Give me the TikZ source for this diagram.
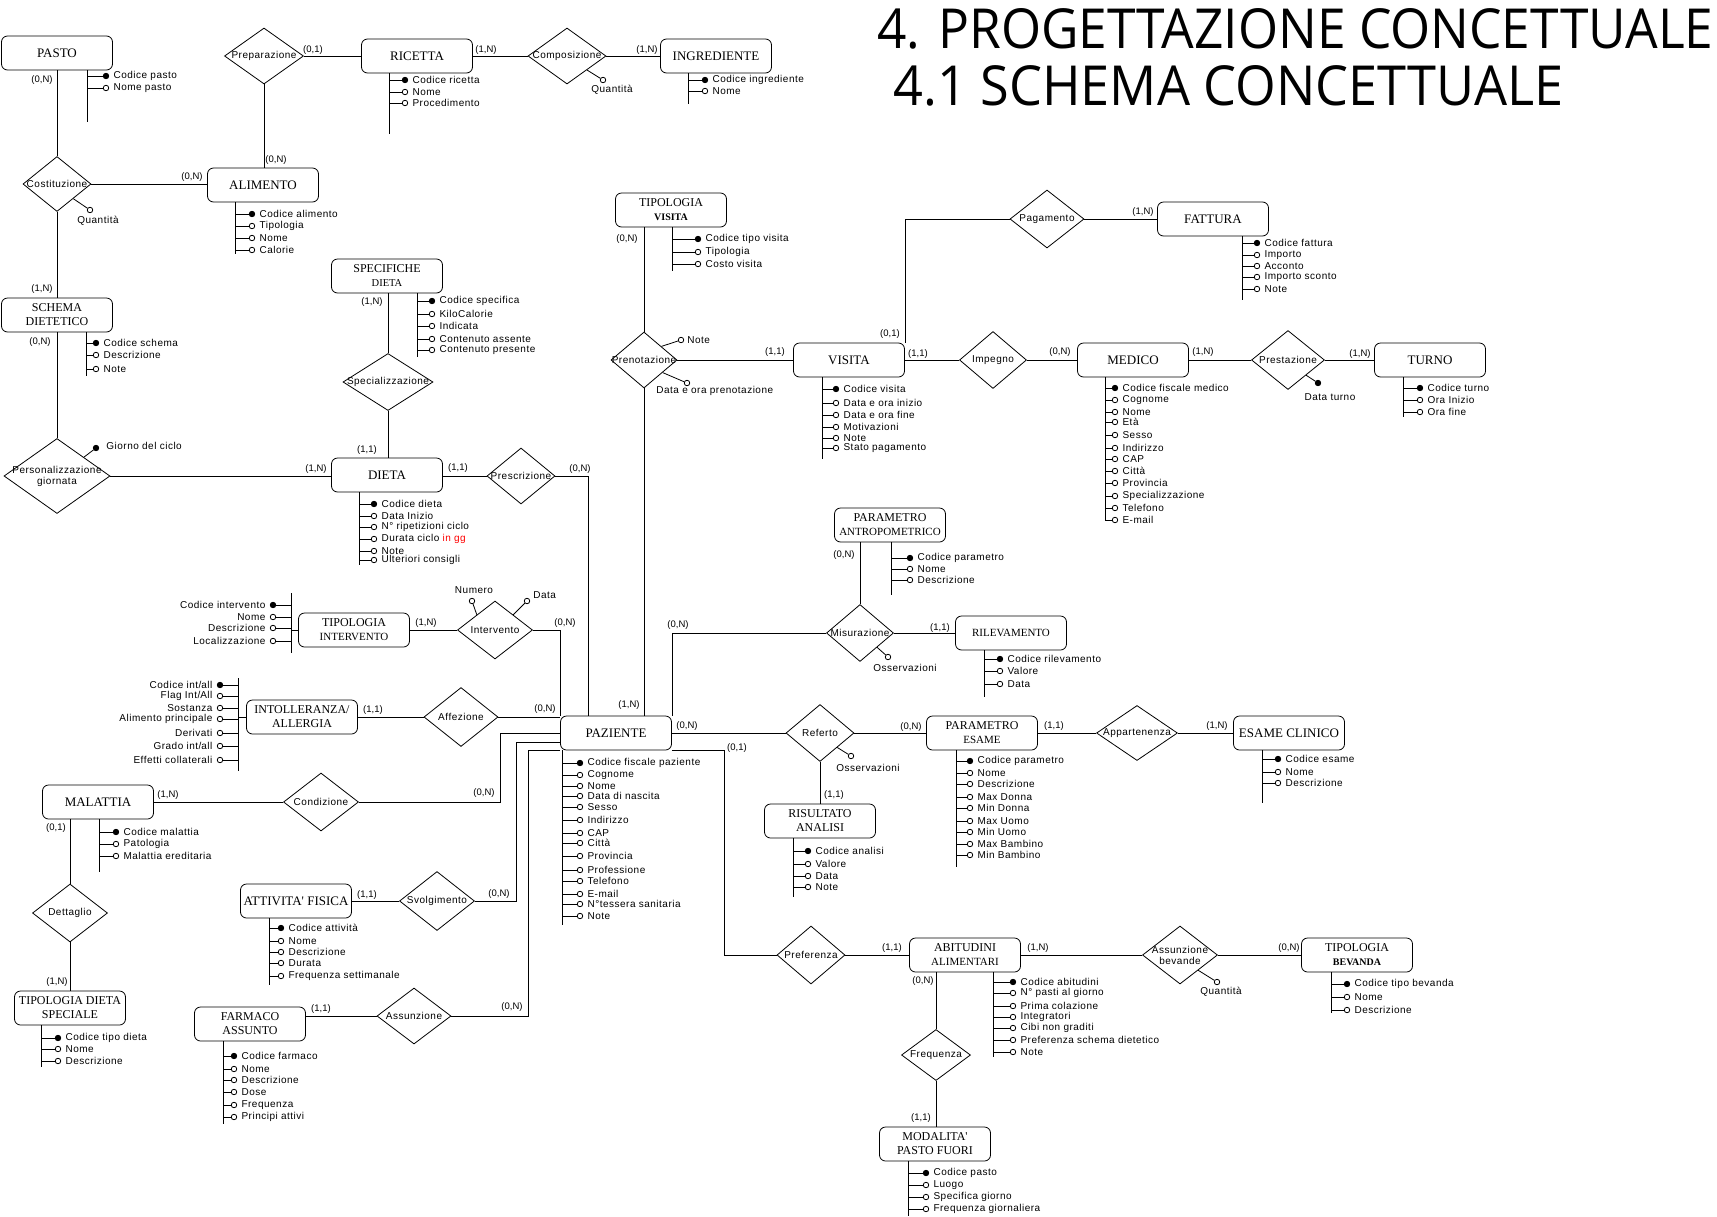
\documentclass[tikz,border=0pt]{standalone}
\usepackage{fontspec}
\usepackage{xcolor}
\usepackage{graphicx}
\usepackage{tikz}
\usetikzlibrary{shapes.geometric}
\usetikzlibrary{positioning}
\newfontfamily\entfont{Liberation Serif}
\newfontfamily\attfont[LetterSpace=5]{Liberation Sans}
\newfontfamily\cardfont{Liberation Sans}
\newfontfamily\titlefont{Open Sans}

\begin{document}
\begin{tikzpicture}[x=1pt,y=-1pt,line width=0.8pt,
  entity/.style={draw, rectangle, rounded corners=6pt, minimum width=111pt, minimum height=34pt, inner sep=1pt, align=center, font=\entfont\fontsize{13}{14}\selectfont},
  entity2/.style={entity, font=\entfont\fontsize{12}{14}\selectfont},
  rel/.style n args={3}{draw, diamond, minimum width=#1pt, minimum height=#2pt, inner sep=0pt, label={[reltext]center:{#3}}},
  reltext/.style={font=\attfont\fontsize{10}{11}\selectfont, align=center, inner sep=0pt},
  card/.style={font=\cardfont\fontsize{9.5}{11}\selectfont, inner sep=0pt},
  att/.style={circle, draw, fill=#1, minimum size=5.5pt, inner sep=0pt},
  attr/.style={font=\attfont\fontsize{10}{12}\selectfont, inner sep=0pt}]
%set diagram size to the page
\path[fill=white] (0,0) rectangle (1717,1216);

% Title
\node[anchor=base west, inner sep=0pt] (titolo1) at (877,48) {\resizebox{836pt}{40pt}{\titlefont 4. PROGETTAZIONE CONCETTUALE}};
\node[anchor=base west, inner sep=0pt] (titolo2) at (893,105) {\resizebox{670pt}{40pt}{\titlefont 4.1 SCHEMA CONCETTUALE}};

%Shape: Entities
\node[entity] (pasto) at (57,53) {PASTO};
\node[entity] (ricetta) at (417,56) {RICETTA};
\node[entity] (ingrediente) at (716,56) {INGREDIENTE};
\node[entity] (alimento) at (263,185) {ALIMENTO};
\node[entity2] (schema) at (57,315) {SCHEMA\\DIETETICO};
\node[entity2] (specifiche) at (387,276) {SPECIFICHE\\{\fontsize{10.5}{12}\selectfont DIETA}};
\node[entity] (dieta) at (387,475) {DIETA};
\node[entity2] (tipvisita) at (671,210) {TIPOLOGIA\\{\fontsize{10}{12}\selectfont\bfseries VISITA}};
\node[entity] (fattura) at (1213,219) {FATTURA};
\node[entity] (visita) at (849,360) {VISITA};
\node[entity] (medico) at (1133,360) {MEDICO};
\node[entity] (turno) at (1430,360) {TURNO};
\node[entity2] (antropo) at (890,525) {PARAMETRO\\{\fontsize{11}{12}\selectfont ANTROPOMETRICO}};
\node[entity, font=\entfont\fontsize{11}{12}\selectfont] (rilevamento) at (1011,633) {RILEVAMENTO};
\node[entity2] (tipintervento) at (354,630) {TIPOLOGIA\\{\fontsize{11}{12}\selectfont INTERVENTO}};
\node[entity2] (intolleranza) at (302,717) {INTOLLERANZA/\\ALLERGIA};
\node[entity] (paziente) at (616,733) {PAZIENTE};
\node[entity2] (parametro) at (982,733) {PARAMETRO\\{\fontsize{11}{12}\selectfont ESAME}};
\node[entity] (esame) at (1289,733) {ESAME CLINICO};
\node[entity] (malattia) at (98,802) {MALATTIA};
\node[entity2] (risultato) at (820,821) {RISULTATO\\ANALISI};
\node[entity] (attivita) at (296,901) {ATTIVITA' FISICA};
\node[entity2] (tipdieta) at (70,1008) {TIPOLOGIA DIETA\\SPECIALE};
\node[entity2] (farmaco) at (250,1024) {FARMACO\\ASSUNTO};
\node[entity2] (abitudini) at (965,955) {ABITUDINI\\{\fontsize{11}{12}\selectfont ALIMENTARI}};
\node[entity2] (bevanda) at (1357,955) {TIPOLOGIA\\{\fontsize{10}{12}\selectfont\bfseries BEVANDA}};
\node[entity2] (modalita) at (935,1144) {MODALITA'\\PASTO FUORI};

%Shape: Relations
\node[rel={79}{56}{Preparazione}] (preparazione) at (264,56) {};
\node[rel={78}{56}{Composizione}] (composizione) at (567,56) {};
\node[rel={68}{55}{Costituzione}] (costituzione) at (57,184) {};
\node[rel={90}{57}{Specializzazione}] (specializzazione) at (388,382) {};
\node[rel={106}{75}{Personalizzazione\\giornata}] (personalizzazione) at (57,476) {};
\node[rel={68}{56}{Prescrizione}] (prescrizione) at (521,476) {};
\node[rel={66}{56}{Prenotazione}] (prenotazione) at (644,360) {};
\node[rel={74}{58}{Pagamento}] (pagamento) at (1047,219) {};
\node[rel={67}{57}{Impegno}] (impegno) at (993,360) {};
\node[rel={73}{59}{Prestazione}] (prestazione) at (1288,360) {};
\node[rel={75}{58}{Intervento}] (intervento) at (495,630) {};
\node[rel={74}{59}{Affezione}] (affezione) at (461,717) {};
\node[rel={67}{57}{Misurazione}] (misurazione) at (860,633) {};
\node[rel={68}{57}{Referto}] (referto) at (820,733) {};
\node[rel={81}{55}{Appartenenza}] (appartenenza) at (1137,733) {};
\node[rel={75}{58}{Condizione}] (condizione) at (321,802) {};
\node[rel={75}{58}{Dettaglio}] (dettaglio) at (70,913) {};
\node[rel={75}{59}{Svolgimento}] (svolgimento) at (437,901) {};
\node[rel={74}{56}{Assunzione}] (assunzione) at (414,1016) {};
\node[rel={68}{58}{Preferenza}] (preferenza) at (811,955) {};
\node[rel={75}{58}{Assunzione\\bevande}] (assbevande) at (1180,955) {};
\node[rel={69}{51}{Frequenza}] (frequenza) at (936,1055) {};

% Connectors
\draw (pasto.south) -- (costituzione.north);
\draw (costituzione.east) -- (costituzione.east -| alimento.west);
\draw (costituzione.south) -- (schema.north);
\draw (preparazione.east) -- (ricetta.west);
\draw (preparazione.south) -- (preparazione.south |- alimento.north);
\draw (ricetta.east) -- (composizione.west);
\draw (composizione.east) -- (ingrediente.west);
\draw (schema.south) -- (personalizzazione.north);
\draw (personalizzazione.east) -- (personalizzazione.east -| dieta.west);
\draw (specializzazione.north |- specifiche.south) -- (specializzazione.north);
\draw (specializzazione.south) -- (specializzazione.south |- dieta.north);
\draw (prescrizione.west -| dieta.east) -- (prescrizione.west);
\draw (prescrizione.east) -| ([xshift=-28pt]paziente.north);
\draw (prenotazione.north |- tipvisita.south) -- (prenotazione.north);
\draw (prenotazione.east) -- (visita.west);
\draw (prenotazione.south) -- (prenotazione.south |- paziente.north);
\draw (visita.north east) |- (pagamento.west);
\draw (pagamento.east) -- (fattura.west);
\draw (visita.east) -- (impegno.west);
\draw (impegno.east) -- (medico.west);
\draw (medico.east) -- (prestazione.west);
\draw (prestazione.east) -- (turno.west);
\draw (tipintervento.east) -- (intervento.west);
\draw (intervento.east) -| (paziente.north west);
\draw (intolleranza.east) -- (affezione.west);
\draw (affezione.east) -- (affezione.east -| paziente.west);
\draw (paziente.north east) |- (misurazione.west);
\draw (misurazione.north |- antropo.south) -- (misurazione.north);
\draw (misurazione.east) -- (rilevamento.west);
\draw (paziente.east) -- (referto.west);
\draw (referto.east) -- (parametro.west);
\draw (referto.south) -- (referto.south |- risultato.north);
\draw (parametro.east) -- (appartenenza.west);
\draw (appartenenza.east) -- (esame.west);
\draw (paziente.west) -- ++(-60,0) |- (condizione.east);
\draw (condizione.west) -- (malattia.east);
\draw (dettaglio.north |- malattia.south) -- (dettaglio.north);
\draw (dettaglio.south) -- (dettaglio.south |- tipdieta.north);
\draw ([yshift=-9pt]paziente.west) -- ++(-44,0) |- (svolgimento.east);
\draw (attivita.east) -- (svolgimento.west);
\draw (paziente.south west) -- ++(-32,0) |- (assunzione.east);
\draw (farmaco.east |- assunzione.west) -- (assunzione.west);
\draw (paziente.south east) -- ++(52,0) |- (preferenza.west);
\draw (preferenza.east) -- (abitudini.west);
\draw (abitudini.east) -- (assbevande.west);
\draw (assbevande.east) -- (bevanda.west);
\draw (frequenza.north |- abitudini.south) -- (frequenza.north);
\draw (frequenza.south) -- (frequenza.south |- modalita.north);

% Text Node: cardinalities
\node[card] (c1) at (42,80) {(0,N)};
\node[card] (c2) at (313,50) {(0,1)};
\node[card] (c3) at (192,177) {(0,N)};
\node[card] (c4) at (276,160) {(0,N)};
\node[card] (c5) at (42,289) {(1,N)};
\node[card] (c6) at (40,342) {(0,N)};
\node[card] (c7) at (372,302) {(1,N)};
\node[card] (c8) at (486,50) {(1,N)};
\node[card] (c9) at (647,50) {(1,N)};
\node[card] (c10) at (627,239) {(0,N)};
\node[card] (c11) at (775,352) {(1,1)};
\node[card] (c12) at (1143,212) {(1,N)};
\node[card] (c13) at (890,334) {(0,1)};
\node[card] (c14) at (918,354) {(1,1)};
\node[card] (c15) at (1060,352) {(0,N)};
\node[card] (c16) at (1203,352) {(1,N)};
\node[card] (c17) at (1360,354) {(1,N)};
\node[card] (c18) at (316,469) {(1,N)};
\node[card] (c19) at (367,450) {(1,1)};
\node[card] (c20) at (426,623) {(1,N)};
\node[card] (c21) at (373,710) {(1,1)};
\node[card] (c22) at (168,795) {(1,N)};
\node[card] (c23) at (458,468) {(1,1)};
\node[card] (c24) at (580,469) {(0,N)};
\node[card] (c25) at (565,623) {(0,N)};
\node[card] (c26) at (545,709) {(0,N)};
\node[card] (c27) at (629,705) {(1,N)};
\node[card] (c28) at (678,625) {(0,N)};
\node[card] (c29) at (687,726) {(0,N)};
\node[card] (c30) at (737,748) {(0,1)};
\node[card] (c31) at (484,793) {(0,N)};
\node[card] (c32) at (834,795) {(1,1)};
\node[card] (c33) at (844,555) {(0,N)};
\node[card] (c34) at (940,628) {(1,1)};
\node[card] (c35) at (911,727) {(0,N)};
\node[card] (c36) at (1054,726) {(1,1)};
\node[card] (c37) at (1217,726) {(1,N)};
\node[card] (c38) at (56,828) {(0,1)};
\node[card] (c39) at (57,982) {(1,N)};
\node[card] (c40) at (367,895) {(1,1)};
\node[card] (c41) at (321,1009) {(1,1)};
\node[card] (c42) at (499,894) {(0,N)};
\node[card] (c43) at (512,1007) {(0,N)};
\node[card] (c44) at (892,948) {(1,1)};
\node[card] (c45) at (1038,948) {(1,N)};
\node[card] (c46) at (923,981) {(0,N)};
\node[card] (c47) at (921,1118) {(1,1)};
\node[card] (c48) at (1289,948) {(0,N)};

% Relation attributes
\node[att=white] (costQ) at (90,210) {};
\draw (costituzione.-42) -- (costQ);
\node[attr] (costQT) at (98,221) {Quantità};
\node[att=white] (compQ) at (603,80) {};
\draw (composizione.-35) -- (compQ);
\node[attr] (compQT) at (612,90) {Quantità};
\node[att=black] (persG) at (96,448) {};
\draw (personalizzazione.35) -- (persG);
\node[attr, anchor=west] (persGT) at (106,446) {Giorno del ciclo};
\node[att=white] (prenN) at (681,340) {};
\draw (prenotazione.38) -- (prenN);
\node[attr, anchor=west] (prenNT) at (687,340) {Note};
\node[att=white] (prenD) at (687,383) {};
\draw (prenotazione.-34) -- (prenD);
\node[attr, anchor=west] (prenDT) at (656,391) {Data e ora prenotazione};
\node[att=white] (intN) at (472,601) {};
\draw (intervento.140) -- (intN);
\node[attr] (intNT) at (474,590) {Numero};
\node[att=white] (intD) at (527,601) {};
\draw (intervento.40) -- (intD);
\node[attr, anchor=west] (intDT) at (533,595) {Data};
\node[att=white] (misO) at (888,657) {};
\draw (misurazione.-40) -- (misO);
\node[attr] (misOT) at (905,668) {Osservazioni};
\node[att=white] (refO) at (851,756) {};
\draw (referto.-40) -- (refO);
\node[attr] (refOT) at (868,768) {Osservazioni};
\node[att=black] (prestD) at (1318,383) {};
\draw (prestazione.-40) -- (prestD);
\node[attr] (prestDT) at (1330,397) {Data turno};
\node[att=white] (bevQ) at (1217,982) {};
\draw (assbevande.-40) -- (bevQ);
\node[attr] (bevQT) at (1221,992) {Quantità};

%Attributes: PASTO
\coordinate (pastoS) at (87,122);
\draw (pastoS |- pasto.south) -- (pastoS);
\foreach \y/\c/\t [count=\i] in {76/black/Codice pasto,88/white/Nome pasto}{
  \node[att=\c] (pasto\i) at (106,\y) {};
  \draw (pastoS |- pasto\i) -- (pasto\i);
  \node[attr, right=4pt of pasto\i] (pastoT\i) {\t};}

%Attributes: RICETTA
\coordinate (ricettaS) at (389,134);
\draw (ricettaS |- ricetta.south) -- (ricettaS);
\foreach \y/\c/\t [count=\i] in {80/black/Codice ricetta,92/white/Nome,103/white/Procedimento}{
  \node[att=\c] (ricetta\i) at (405,\y) {};
  \draw (ricettaS |- ricetta\i) -- (ricetta\i);
  \node[attr, right=4pt of ricetta\i] (ricettaT\i) {\t};}

%Attributes: INGREDIENTE
\coordinate (ingredienteS) at (688,104);
\draw (ingredienteS |- ingrediente.south) -- (ingredienteS);
\foreach \y/\c/\t [count=\i] in {80/black/Codice ingrediente,91/white/Nome}{
  \node[att=\c] (ingrediente\i) at (705,\y) {};
  \draw (ingredienteS |- ingrediente\i) -- (ingrediente\i);
  \node[attr, right=4pt of ingrediente\i] (ingredienteT\i) {\t};}

%Attributes: ALIMENTO
\coordinate (alimentoS) at (235,254);
\draw (alimentoS |- alimento.south) -- (alimentoS);
\foreach \y/\c/\t [count=\i] in {214/black/Codice alimento,226/white/Tipologia,238/white/Nome,250/white/Calorie}{
  \node[att=\c] (alimento\i) at (252,\y) {};
  \draw (alimentoS |- alimento\i) -- (alimento\i);
  \node[attr, right=4pt of alimento\i] (alimentoT\i) {\t};}

%Attributes: SCHEMA DIETETICO
\coordinate (schemaS) at (86,376);
\draw (schemaS |- schema.south) -- (schemaS);
\foreach \y/\c/\t [count=\i] in {343/black/Codice schema,355/white/Descrizione,369/white/Note}{
  \node[att=\c] (schema\i) at (96,\y) {};
  \draw (schemaS |- schema\i) -- (schema\i);
  \node[attr, right=4pt of schema\i] (schemaT\i) {\t};}

%Attributes: SPECIFICHE DIETA
\coordinate (specificheS) at (417,357);
\draw (specificheS |- specifiche.south) -- (specificheS);
\foreach \y/\c/\t [count=\i] in {301/black/Codice specifica,314/white/KiloCalorie,326/white/Indicata,339/white/Contenuto assente,350/white/Contenuto presente}{
  \node[att=\c] (specifiche\i) at (432,\y) {};
  \draw (specificheS |- specifiche\i) -- (specifiche\i);
  \node[attr, right=4pt of specifiche\i] (specificheT\i) {\t};}

%Attributes: DIETA
\coordinate (dietaS) at (359,565);
\draw (dietaS |- dieta.south) -- (dietaS);
\foreach \y/\c/\t [count=\i] in {504/black/Codice dieta,516/white/Data Inizio,527/white/N° ripetizioni ciclo,539/white/Durata ciclo \textcolor{red}{in gg},551/white/Note,560/white/Ulteriori consigli}{
  \node[att=\c] (dieta\i) at (374,\y) {};
  \draw (dietaS |- dieta\i) -- (dieta\i);
  \node[attr, right=4pt of dieta\i] (dietaT\i) {\t};}

%Attributes: TIPOLOGIA VISITA
\coordinate (tipvisitaS) at (672,271);
\draw (tipvisitaS |- tipvisita.south) -- (tipvisitaS);
\foreach \y/\c/\t [count=\i] in {239/black/Codice tipo visita,252/white/Tipologia,264/white/Costo visita}{
  \node[att=\c] (tipvisita\i) at (698,\y) {};
  \draw (tipvisitaS |- tipvisita\i) -- (tipvisita\i);
  \node[attr, right=4pt of tipvisita\i] (tipvisitaT\i) {\t};}

%Attributes: FATTURA
\coordinate (fatturaS) at (1242,300);
\draw (fatturaS |- fattura.south) -- (fatturaS);
\foreach \y/\c/\t [count=\i] in {243/black/Codice fattura,255/white/Importo,266/white/Acconto,277/white/Importo sconto,289/white/Note}{
  \node[att=\c] (fattura\i) at (1257,\y) {};
  \draw (fatturaS |- fattura\i) -- (fattura\i);
  \node[attr, right=4pt of fattura\i] (fatturaT\i) {\t};}

%Attributes: VISITA
\coordinate (visitaS) at (822,459);
\draw (visitaS |- visita.south) -- (visitaS);
\foreach \y/\c/\t [count=\i] in {389/black/Codice visita,403/white/Data e ora inizio,415/white/Data e ora fine,427/white/Motivazioni,438/white/Note,448/white/Stato pagamento}{
  \node[att=\c] (visita\i) at (836,\y) {};
  \draw (visitaS |- visita\i) -- (visita\i);
  \node[attr, right=4pt of visita\i] (visitaT\i) {\t};}

%Attributes: MEDICO
\coordinate (medicoS) at (1105,520);
\draw (medicoS |- medico.south) -- (medicoS);
\foreach \y/\c/\t [count=\i] in {388/black/Codice fiscale medico,400/white/Cognome,412/white/Nome,422/white/Età,435/white/Sesso,448/white/Indirizzo,459/white/CAP,471/white/Città,483/white/Provincia,496/white/Specializzazione,508/white/Telefono,520/white/E-mail}{
  \node[att=\c] (medico\i) at (1115,\y) {};
  \draw (medicoS |- medico\i) -- (medico\i);
  \node[attr, right=4pt of medico\i] (medicoT\i) {\t};}

%Attributes: TURNO
\coordinate (turnoS) at (1403,417);
\draw (turnoS |- turno.south) -- (turnoS);
\foreach \y/\c/\t [count=\i] in {388/black/Codice turno,400/white/Ora Inizio,412/white/Ora fine}{
  \node[att=\c] (turno\i) at (1420,\y) {};
  \draw (turnoS |- turno\i) -- (turno\i);
  \node[attr, right=4pt of turno\i] (turnoT\i) {\t};}

%Attributes: PARAMETRO ANTROPOMETRICO
\coordinate (antropoS) at (891,595);
\draw (antropoS |- antropo.south) -- (antropoS);
\foreach \y/\c/\t [count=\i] in {558/black/Codice parametro,569/white/Nome,580/white/Descrizione}{
  \node[att=\c] (antropo\i) at (910,\y) {};
  \draw (antropoS |- antropo\i) -- (antropo\i);
  \node[attr, right=4pt of antropo\i] (antropoT\i) {\t};}

%Attributes: RILEVAMENTO
\coordinate (rilevamentoS) at (984,697);
\draw (rilevamentoS |- rilevamento.south) -- (rilevamentoS);
\foreach \y/\c/\t [count=\i] in {659/black/Codice rilevamento,671/white/Valore,684/white/Data}{
  \node[att=\c] (rilevamento\i) at (1000,\y) {};
  \draw (rilevamentoS |- rilevamento\i) -- (rilevamento\i);
  \node[attr, right=4pt of rilevamento\i] (rilevamentoT\i) {\t};}

%Attributes: PAZIENTE
\coordinate (pazienteS) at (562,925);
\draw (pazienteS |- paziente.south) -- (pazienteS);
\foreach \y/\c/\t [count=\i] in {763/black/Codice fiscale paziente,775/white/Cognome,786/white/Nome,796/white/Data di nascita,807/white/Sesso,820/white/Indirizzo,833/white/CAP,843/white/Città,856/white/Provincia,870/white/Professione,881/white/Telefono,894/white/E-mail,904/white/N°tessera sanitaria,916/white/Note}{
  \node[att=\c] (paziente\i) at (580,\y) {};
  \draw (pazienteS |- paziente\i) -- (paziente\i);
  \node[attr, right=4pt of paziente\i] (pazienteT\i) {\t};}

%Attributes: PARAMETRO ESAME
\coordinate (parametroS) at (956,867);
\draw (parametroS |- parametro.south) -- (parametroS);
\foreach \y/\c/\t [count=\i] in {761/black/Codice parametro,773/white/Nome,784/white/Descrizione,797/white/Max Donna,808/white/Min Donna,821/white/Max Uomo,832/white/Min Uomo,844/white/Max Bambino,855/white/Min Bambino}{
  \node[att=\c] (parametro\i) at (970,\y) {};
  \draw (parametroS |- parametro\i) -- (parametro\i);
  \node[attr, right=4pt of parametro\i] (parametroT\i) {\t};}

%Attributes: ESAME CLINICO
\coordinate (esameS) at (1262,803);
\draw (esameS |- esame.south) -- (esameS);
\foreach \y/\c/\t [count=\i] in {759/black/Codice esame,772/white/Nome,783/white/Descrizione}{
  \node[att=\c] (esame\i) at (1278,\y) {};
  \draw (esameS |- esame\i) -- (esame\i);
  \node[attr, right=4pt of esame\i] (esameT\i) {\t};}

%Attributes: RISULTATO ANALISI
\coordinate (risultatoS) at (793,897);
\draw (risultatoS |- risultato.south) -- (risultatoS);
\foreach \y/\c/\t [count=\i] in {851/black/Codice analisi,864/white/Valore,876/white/Data,887/white/Note}{
  \node[att=\c] (risultato\i) at (808,\y) {};
  \draw (risultatoS |- risultato\i) -- (risultato\i);
  \node[attr, right=4pt of risultato\i] (risultatoT\i) {\t};}

%Attributes: MALATTIA
\coordinate (malattiaS) at (99,872);
\draw (malattiaS |- malattia.south) -- (malattiaS);
\foreach \y/\c/\t [count=\i] in {832/black/Codice malattia,844/white/Patologia,856/white/Malattia ereditaria}{
  \node[att=\c] (malattia\i) at (116,\y) {};
  \draw (malattiaS |- malattia\i) -- (malattia\i);
  \node[attr, right=4pt of malattia\i] (malattiaT\i) {\t};}

%Attributes: ATTIVITA' FISICA
\coordinate (attivitaS) at (269,985);
\draw (attivitaS |- attivita.south) -- (attivitaS);
\foreach \y/\c/\t [count=\i] in {928/black/Codice attività,941/white/Nome,952/white/Descrizione,963/white/Durata,976/white/Frequenza settimanale}{
  \node[att=\c] (attivita\i) at (281,\y) {};
  \draw (attivitaS |- attivita\i) -- (attivita\i);
  \node[attr, right=4pt of attivita\i] (attivitaT\i) {\t};}

%Attributes: TIPOLOGIA DIETA SPECIALE
\coordinate (tipdietaS) at (41,1067);
\draw (tipdietaS |- tipdieta.south) -- (tipdietaS);
\foreach \y/\c/\t [count=\i] in {1038/black/Codice tipo dieta,1049/white/Nome,1061/white/Descrizione}{
  \node[att=\c] (tipdieta\i) at (58,\y) {};
  \draw (tipdietaS |- tipdieta\i) -- (tipdieta\i);
  \node[attr, right=4pt of tipdieta\i] (tipdietaT\i) {\t};}

%Attributes: FARMACO ASSUNTO
\coordinate (farmacoS) at (223,1124);
\draw (farmacoS |- farmaco.south) -- (farmacoS);
\foreach \y/\c/\t [count=\i] in {1056/black/Codice farmaco,1069/white/Nome,1080/white/Descrizione,1092/white/Dose,1105/white/Frequenza,1117/white/Principi attivi}{
  \node[att=\c] (farmaco\i) at (234,\y) {};
  \draw (farmacoS |- farmaco\i) -- (farmaco\i);
  \node[attr, right=4pt of farmaco\i] (farmacoT\i) {\t};}

%Attributes: ABITUDINI ALIMENTARI
\coordinate (abitudiniS) at (993,1057);
\draw (abitudiniS |- abitudini.south) -- (abitudiniS);
\foreach \y/\c/\t [count=\i] in {982/black/Codice abitudini,993/white/N° pasti al giorno,1006/white/Prima colazione,1017/white/Integratori,1028/white/Cibi non graditi,1040/white/Preferenza schema dietetico,1052/white/Note}{
  \node[att=\c] (abitudini\i) at (1013,\y) {};
  \draw (abitudiniS |- abitudini\i) -- (abitudini\i);
  \node[attr, right=4pt of abitudini\i] (abitudiniT\i) {\t};}

%Attributes: TIPOLOGIA BEVANDA
\coordinate (bevandaS) at (1331,1013);
\draw (bevandaS |- bevanda.south) -- (bevandaS);
\foreach \y/\c/\t [count=\i] in {984/black/Codice tipo bevanda,997/white/Nome,1010/white/Descrizione}{
  \node[att=\c] (bevanda\i) at (1347,\y) {};
  \draw (bevandaS |- bevanda\i) -- (bevanda\i);
  \node[attr, right=4pt of bevanda\i] (bevandaT\i) {\t};}

%Attributes: MODALITA' PASTO FUORI
\coordinate (modalitaS) at (908,1216);
\draw (modalitaS |- modalita.south) -- (modalitaS);
\foreach \y/\c/\t [count=\i] in {1173/black/Codice pasto,1185/white/Luogo,1197/white/Specifica giorno,1209/white/Frequenza giornaliera}{
  \node[att=\c] (modalita\i) at (926,\y) {};
  \draw (modalitaS |- modalita\i) -- (modalita\i);
  \node[attr, right=4pt of modalita\i] (modalitaT\i) {\t};}

%Attributes: TIPOLOGIA INTERVENTO (left side)
\coordinate (tintS1) at (291,593);
\coordinate (tintS2) at (291,653);
\draw (tintS1) -- (tintS2);
\draw (tipintervento.west) -- (tipintervento.west -| tintS1);
\foreach \y/\c/\t [count=\i] in {605/black/Codice intervento,617/white/Nome,628/white/Descrizione,641/white/Localizzazione}{
  \node[att=\c] (tint\i) at (273,\y) {};
  \draw (tintS1 |- tint\i) -- (tint\i);
  \node[attr, left=4pt of tint\i] (tintT\i) {\t};}

%Attributes: INTOLLERANZA/ALLERGIA (left side)
\coordinate (intolS1) at (238,678);
\coordinate (intolS2) at (238,771);
\draw (intolS1) -- (intolS2);
\draw (intolleranza.west) -- (intolleranza.west -| intolS1);
\foreach \y/\c/\t [count=\i] in {685/black/Codice int\slash all,696/white/Flag Int\slash All,708/white/Sostanza,719/white/Alimento principale,733/white/Derivati,746/white/Grado int\slash all,760/white/Effetti collaterali}{
  \node[att=\c] (intol\i) at (220,\y) {};
  \draw (intolS1 |- intol\i) -- (intol\i);
  \node[attr, left=4pt of intol\i] (intolT\i) {\t};}

\end{tikzpicture}
\end{document}
